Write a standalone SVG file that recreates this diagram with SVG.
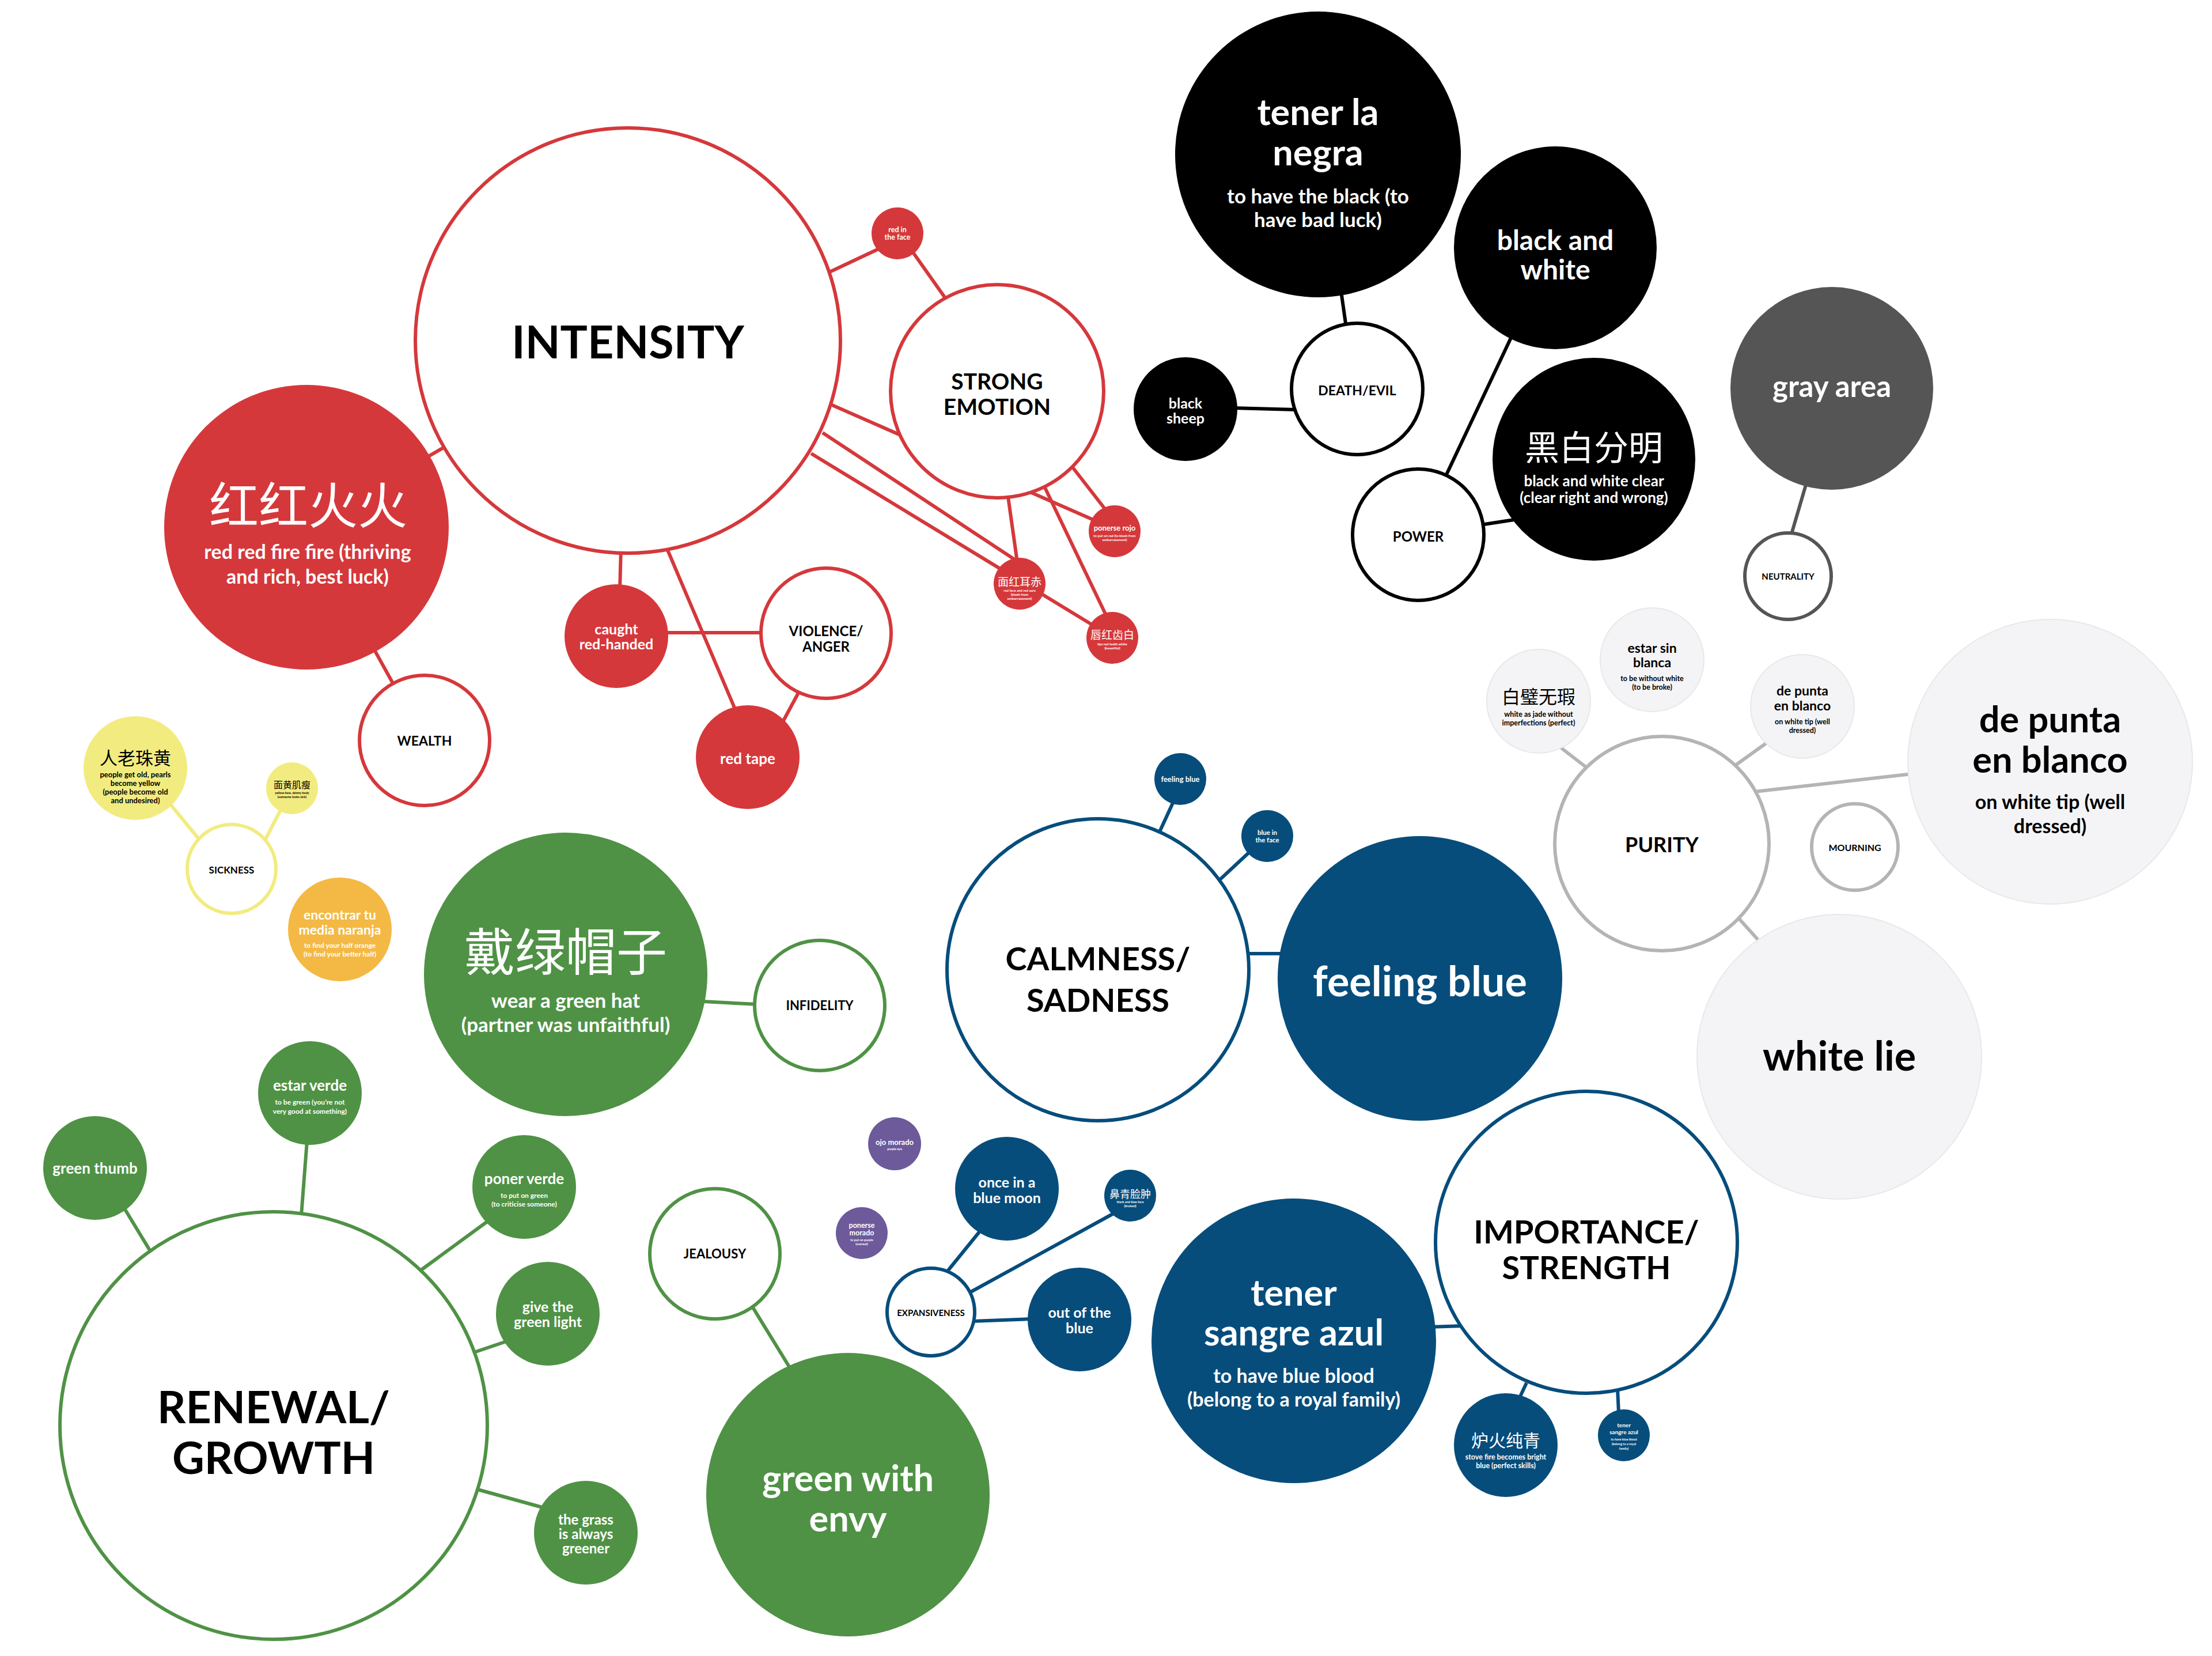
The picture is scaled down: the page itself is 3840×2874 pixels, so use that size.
<svg xmlns="http://www.w3.org/2000/svg" width="3840" height="2874" viewBox="0 0 3840 2874">
<style>
.n{font-family:Lato,"Noto Sans",sans-serif;font-weight:700;text-anchor:middle}
.s{font-family:Lato,"Noto Sans",sans-serif;font-weight:700;text-anchor:middle}
.c{font-family:"Noto Sans CJK SC","Noto Sans CJK TC",sans-serif;font-weight:400;text-anchor:middle}
.w{fill:#fff}.k{fill:#000}
.fr{fill:#d5383b}.or{fill:#fff;stroke:#d5383b;stroke-width:6}
.fg{fill:#4f9245}.og{fill:#fff;stroke:#4f9245;stroke-width:6}
.fb{fill:#064d7c}.ob{fill:#fff;stroke:#064d7c;stroke-width:6}
.fk{fill:#000}.ok{fill:#fff;stroke:#000;stroke-width:6}
.fy{fill:#f2ec80}.oy{fill:#fff;stroke:#f2ec80;stroke-width:6}
.fo{fill:#f4b944}.fp{fill:#6d5a9a}
.fa{fill:#555}.oa{fill:#fff;stroke:#555;stroke-width:6}
.fl{fill:#f4f4f6;stroke:#e8e8ea;stroke-width:2}.ol{fill:#fff;stroke:#b4b4b4;stroke-width:6}
.cr line{stroke:#d5383b}.cg line{stroke:#4f9245}.cb line{stroke:#064d7c}.ck line{stroke:#000}.ca line{stroke:#555}.cl line{stroke:#b4b4b4}.cy line{stroke:#f2ec80}
#connectors line{stroke-width:6}
</style>
<rect width="3840" height="2874" fill="#fff"/>
<g id="connectors">
<g class="cr">
<line x1="532" y1="915" x2="1090" y2="591"/>
<line x1="532" y1="915" x2="737" y2="1285"/>
<line x1="1436" y1="474" x2="1540" y2="425"/>
<line x1="1580" y1="431" x2="1650" y2="530"/>
<line x1="1440" y1="701" x2="1900" y2="903"/>
<line x1="1428" y1="751" x2="1775" y2="980"/>
<line x1="1408" y1="787" x2="1930" y2="1105"/>
<line x1="1749" y1="855" x2="1768" y2="990"/>
<line x1="1855" y1="802" x2="1925" y2="892"/>
<line x1="1810" y1="838" x2="1925" y2="1078"/>
<line x1="1078" y1="950" x2="1076" y2="1025"/>
<line x1="1157" y1="950" x2="1280" y2="1240"/>
<line x1="1150" y1="1098" x2="1330" y2="1098"/>
<line x1="1390" y1="1195" x2="1355" y2="1260"/>
</g>
<g class="ck">
<line x1="2140" y1="708" x2="2250" y2="711"/>
<line x1="2328" y1="505" x2="2337" y2="568"/>
<line x1="2625" y1="582" x2="2508" y2="830"/>
<line x1="2570" y1="911" x2="2635" y2="901"/>
</g>
<g class="ca">
<line x1="3136" y1="838" x2="3109" y2="930"/>
</g>
<g class="cl">
<line x1="2705" y1="1294" x2="2758" y2="1335"/>
<line x1="3070" y1="1287" x2="3010" y2="1330"/>
<line x1="3045" y1="1374" x2="3320" y2="1343"/>
<line x1="3015" y1="1590" x2="3060" y2="1640"/>
</g>
<g class="cb">
<line x1="2040" y1="1385" x2="2010" y2="1450"/>
<line x1="2172" y1="1476" x2="2114" y2="1530"/>
<line x1="2160" y1="1655" x2="2230" y2="1655"/>
<line x1="1640" y1="2212" x2="1705" y2="2132"/>
<line x1="1680" y1="2245" x2="1935" y2="2105"/>
<line x1="1688" y1="2293" x2="1790" y2="2289"/>
<line x1="2480" y1="2303" x2="2545" y2="2301"/>
<line x1="2650" y1="2400" x2="2636" y2="2430"/>
<line x1="2808" y1="2410" x2="2810" y2="2452"/>
</g>
<g class="cg">
<line x1="214" y1="2094" x2="265" y2="2178"/>
<line x1="533" y1="1980" x2="523" y2="2110"/>
<line x1="850" y1="2117" x2="727" y2="2207"/>
<line x1="882" y1="2327" x2="820" y2="2348"/>
<line x1="945" y1="2617" x2="822" y2="2583"/>
<line x1="1220" y1="1738" x2="1315" y2="1743"/>
<line x1="1305" y1="2266" x2="1375" y2="2380"/>
</g>
<g class="cy">
<line x1="295" y1="1395" x2="350" y2="1462"/>
<line x1="488" y1="1404" x2="456" y2="1466"/>
</g>
</g>

<g id="intensity"><circle class="or" cx="1090" cy="591" r="369"/><text class="n k" x="1090" y="622" font-size="79">INTENSITY</text></g>
<g id="honghonghuohuo"><circle class="fr" cx="532" cy="915" r="247"/><text class="c w" x="535" y="909" font-size="86">红红火火</text><text class="s w" x="534" y="970" font-size="34">red red fire fire (thriving</text><text class="s w" x="534" y="1013" font-size="34">and rich, best luck)</text></g>
<g id="wealth"><circle class="or" cx="737" cy="1285" r="113"/><text class="n k" x="737" y="1294" font-size="23">WEALTH</text></g>
<g id="caught"><circle class="fr" cx="1070" cy="1104" r="90"/><text class="s w" x="1070" y="1101" font-size="25">caught</text><text class="s w" x="1070" y="1127" font-size="25">red-handed</text></g>
<g id="violence"><circle class="or" cx="1434" cy="1099" r="113"/><text class="n k" x="1434" y="1104" font-size="24">VIOLENCE/</text><text class="n k" x="1434" y="1131" font-size="24">ANGER</text></g>
<g id="redtape"><circle class="fr" cx="1298" cy="1314" r="90"/><text class="s w" x="1298" y="1326" font-size="26">red tape</text></g>
<g id="strongemotion"><circle class="or" cx="1731" cy="679" r="185"/><text class="n k" x="1731" y="676" font-size="39">STRONG</text><text class="n k" x="1731" y="720" font-size="39">EMOTION</text></g>
<g id="redintheface"><circle class="fr" cx="1558" cy="405" r="45"/><text class="s w" x="1558" y="403" font-size="12.5">red in</text><text class="s w" x="1558" y="416" font-size="12.5">the face</text></g>
<g id="ponerserojo"><circle class="fr" cx="1935" cy="922" r="45"/><text class="s w" x="1935" y="921" font-size="13">ponerse rojo</text><text class="s w" x="1935" y="932" font-size="6">to put on red (to blush from</text><text class="s w" x="1935" y="939" font-size="6">embarrassment)</text></g>
<g id="mianhongerchi"><circle class="fr" cx="1770" cy="1013" r="45"/><text class="c w" x="1770" y="1017" font-size="19">面红耳赤</text><text class="s w" x="1770" y="1027" font-size="6">red face and red ears</text><text class="s w" x="1770" y="1034" font-size="6">(blush from</text><text class="s w" x="1770" y="1041" font-size="6">embarrassment)</text></g>
<g id="chunhongchibai"><circle class="fr" cx="1931" cy="1107" r="45"/><text class="c w" x="1931" y="1109" font-size="19">唇红齿白</text><text class="s w" x="1931" y="1120" font-size="6">lips red teeth white</text><text class="s w" x="1931" y="1127" font-size="6">(beautiful)</text></g>

<g id="tenerlanegra"><circle class="fk" cx="2288" cy="268" r="248"/><text class="s w" x="2288" y="217" font-size="63">tener la</text><text class="s w" x="2288" y="287" font-size="63">negra</text><text class="s w" x="2288" y="353" font-size="35">to have the black (to</text><text class="s w" x="2288" y="394" font-size="35">have bad luck)</text></g>
<g id="blackandwhite"><circle class="fk" cx="2700" cy="430" r="176"/><text class="s w" x="2700" y="434" font-size="48">black and</text><text class="s w" x="2700" y="485" font-size="48">white</text></g>
<g id="deathevil"><circle class="ok" cx="2356" cy="675" r="114"/><text class="n k" x="2356" y="686" font-size="23">DEATH/EVIL</text></g>
<g id="blacksheep"><circle class="fk" cx="2058" cy="710" r="90"/><text class="s w" x="2058" y="709" font-size="25">black</text><text class="s w" x="2058" y="735" font-size="25">sheep</text></g>
<g id="power"><circle class="ok" cx="2462" cy="928" r="114"/><text class="n k" x="2462" y="940" font-size="24">POWER</text></g>
<g id="heibaifenming"><circle class="fk" cx="2767" cy="797" r="176"/><text class="c w" x="2767" y="799" font-size="60">黑白分明</text><text class="s w" x="2767" y="844" font-size="26">black and white clear</text><text class="s w" x="2767" y="873" font-size="26">(clear right and wrong)</text></g>
<g id="grayarea"><circle class="fa" cx="3180" cy="674" r="176"/><text class="s w" x="3180" y="689" font-size="51">gray area</text></g>
<g id="neutrality"><circle class="oa" cx="3104" cy="1000" r="75"/><text class="n k" x="3104" y="1006" font-size="15">NEUTRALITY</text></g>

<g id="purity"><circle class="ol" cx="2885" cy="1464" r="186"/><text class="n k" x="2885" y="1479" font-size="36">PURITY</text></g>
<g id="baibiwuxia"><circle class="fl" cx="2671" cy="1217" r="90"/><text class="c k" x="2671" y="1221" font-size="32">白璧无瑕</text><text class="s k" x="2671" y="1244" font-size="12.5">white as jade without</text><text class="s k" x="2671" y="1259" font-size="12.5">imperfections (perfect)</text></g>
<g id="estarsinblanca"><circle class="fl" cx="2868" cy="1145" r="90"/><text class="s k" x="2868" y="1133" font-size="23">estar sin</text><text class="s k" x="2868" y="1158" font-size="23">blanca</text><text class="s k" x="2868" y="1182" font-size="12.5">to be without white</text><text class="s k" x="2868" y="1197" font-size="12.5">(to be broke)</text></g>
<g id="depuntasmall"><circle class="fl" cx="3129" cy="1226" r="90"/><text class="s k" x="3129" y="1207" font-size="23">de punta</text><text class="s k" x="3129" y="1233" font-size="23">en blanco</text><text class="s k" x="3129" y="1257" font-size="12.5">on white tip (well</text><text class="s k" x="3129" y="1272" font-size="12.5">dressed)</text></g>
<g id="mourning"><circle class="ol" cx="3220" cy="1470" r="75"/><text class="n k" x="3220" y="1477" font-size="16">MOURNING</text></g>
<g id="depuntabig"><circle class="fl" cx="3559" cy="1322" r="247"/><text class="s k" x="3559" y="1271" font-size="63">de punta</text><text class="s k" x="3559" y="1341" font-size="63">en blanco</text><text class="s k" x="3559" y="1404" font-size="34">on white tip (well</text><text class="s k" x="3559" y="1446" font-size="34">dressed)</text></g>
<g id="whitelie"><circle class="fl" cx="3193" cy="1834" r="247"/><text class="s k" x="3193" y="1858" font-size="70">white lie</text></g>

<g id="calmness"><circle class="ob" cx="1906" cy="1683" r="262"/><text class="n k" x="1906" y="1684" font-size="56">CALMNESS/</text><text class="n k" x="1906" y="1756" font-size="56">SADNESS</text></g>
<g id="feelingbluesmall"><circle class="fb" cx="2049" cy="1352" r="45"/><text class="s w" x="2049" y="1357" font-size="13">feeling blue</text></g>
<g id="blueintheface"><circle class="fb" cx="2200" cy="1451" r="45"/><text class="s w" x="2200" y="1449" font-size="11.5">blue in</text><text class="s w" x="2200" y="1462" font-size="11.5">the face</text></g>
<g id="feelingbluebig"><circle class="fb" cx="2465" cy="1698" r="247"/><text class="s w" x="2465" y="1729" font-size="72">feeling blue</text></g>
<g id="ojomorado"><circle class="fp" cx="1553" cy="1985" r="46"/><text class="s w" x="1553" y="1987" font-size="13">ojo morado</text><text class="s w" x="1553" y="1996" font-size="5.5">purple eye</text></g>
<g id="ponersemorado"><circle class="fp" cx="1496" cy="2140" r="45"/><text class="s w" x="1496" y="2131" font-size="12.5">ponerse</text><text class="s w" x="1496" y="2144" font-size="12.5">morado</text><text class="s w" x="1496" y="2154" font-size="5.5">to put on purple</text><text class="s w" x="1496" y="2161" font-size="5.5">(overeat)</text></g>
<g id="onceinabluemoon"><circle class="fb" cx="1748" cy="2063" r="90"/><text class="s w" x="1748" y="2061" font-size="25">once in a</text><text class="s w" x="1748" y="2088" font-size="25">blue moon</text></g>
<g id="biqinglianzhong"><circle class="fb" cx="1962" cy="2075" r="45"/><text class="c w" x="1962" y="2079" font-size="18">鼻青脸肿</text><text class="s w" x="1962" y="2088" font-size="5.5">black and blue face</text><text class="s w" x="1962" y="2095" font-size="5.5">(bruised)</text></g>
<g id="expansiveness"><circle class="ob" cx="1616" cy="2277" r="76"/><text class="n k" x="1616" y="2284" font-size="15">EXPANSIVENESS</text></g>
<g id="outoftheblue"><circle class="fb" cx="1874" cy="2290" r="90"/><text class="s w" x="1874" y="2287" font-size="25">out of the</text><text class="s w" x="1874" y="2314" font-size="25">blue</text></g>
<g id="tenersangreazul"><circle class="fb" cx="2246" cy="2327" r="247"/><text class="s w" x="2246" y="2266" font-size="63">tener</text><text class="s w" x="2246" y="2335" font-size="63">sangre azul</text><text class="s w" x="2246" y="2400" font-size="34">to have blue blood</text><text class="s w" x="2246" y="2441" font-size="34">(belong to a royal family)</text></g>
<g id="importance"><circle class="ob" cx="2754" cy="2156" r="262"/><text class="n k" x="2754" y="2158" font-size="56">IMPORTANCE/</text><text class="n k" x="2754" y="2220" font-size="56">STRENGTH</text></g>
<g id="luhuochunqing"><circle class="fb" cx="2614" cy="2508" r="90"/><text class="c w" x="2614" y="2511" font-size="30">炉火纯青</text><text class="s w" x="2614" y="2533" font-size="12.5">stove fire becomes bright</text><text class="s w" x="2614" y="2548" font-size="12.5">blue (perfect skills)</text></g>
<g id="tenersangreazulsmall"><circle class="fb" cx="2819" cy="2491" r="45"/><text class="s w" x="2819" y="2477" font-size="10">tener</text><text class="s w" x="2819" y="2489" font-size="10">sangre azul</text><text class="s w" x="2819" y="2500" font-size="5.5">to have blue blood</text><text class="s w" x="2819" y="2508" font-size="5.5">(belong to a royal</text><text class="s w" x="2819" y="2516" font-size="5.5">family)</text></g>

<g id="renewal"><circle class="og" cx="475" cy="2474" r="371"/><text class="n k" x="475" y="2470" font-size="77">RENEWAL/</text><text class="n k" x="475" y="2558" font-size="77">GROWTH</text></g>
<g id="greenthumb"><circle class="fg" cx="165" cy="2027" r="90"/><text class="s w" x="165" y="2037" font-size="26">green thumb</text></g>
<g id="estarverde"><circle class="fg" cx="538" cy="1897" r="90"/><text class="s w" x="538" y="1893" font-size="26">estar verde</text><text class="s w" x="538" y="1917" font-size="12">to be green (you’re not</text><text class="s w" x="538" y="1933" font-size="12">very good at something)</text></g>
<g id="ponerverde"><circle class="fg" cx="910" cy="2060" r="90"/><text class="s w" x="910" y="2055" font-size="26">poner verde</text><text class="s w" x="910" y="2079" font-size="12">to put on green</text><text class="s w" x="910" y="2094" font-size="12">(to criticise someone)</text></g>
<g id="givethegreenlight"><circle class="fg" cx="951" cy="2280" r="90"/><text class="s w" x="951" y="2277" font-size="25">give the</text><text class="s w" x="951" y="2303" font-size="25">green light</text></g>
<g id="thegrass"><circle class="fg" cx="1017" cy="2660" r="90"/><text class="s w" x="1017" y="2646" font-size="24">the grass</text><text class="s w" x="1017" y="2671" font-size="24">is always</text><text class="s w" x="1017" y="2696" font-size="24">greener</text></g>
<g id="dailvmaozi"><circle class="fg" cx="982" cy="1691" r="246"/><text class="c w" x="982" y="1684" font-size="88">戴绿帽子</text><text class="s w" x="982" y="1749" font-size="35">wear a green hat</text><text class="s w" x="982" y="1791" font-size="35">(partner was unfaithful)</text></g>
<g id="infidelity"><circle class="og" cx="1423" cy="1745" r="113"/><text class="n k" x="1423" y="1753" font-size="22">INFIDELITY</text></g>
<g id="jealousy"><circle class="og" cx="1241" cy="2176" r="113"/><text class="n k" x="1241" y="2184" font-size="22">JEALOUSY</text></g>
<g id="greenwithenvy"><circle class="fg" cx="1472" cy="2594" r="246"/><text class="s w" x="1472" y="2588" font-size="63">green with</text><text class="s w" x="1472" y="2658" font-size="63">envy</text></g>

<g id="sickness"><circle class="oy" cx="402" cy="1508" r="77"/><text class="n k" x="402" y="1516" font-size="17">SICKNESS</text></g>
<g id="renlaozhuhuang"><circle class="fy" cx="235" cy="1333" r="90"/><text class="c k" x="235" y="1327" font-size="31">人老珠黄</text><text class="s k" x="235" y="1349" font-size="13">people get old, pearls</text><text class="s k" x="235" y="1364" font-size="13">become yellow</text><text class="s k" x="235" y="1379" font-size="13">(people become old</text><text class="s k" x="235" y="1394" font-size="13">and undesired)</text></g>
<g id="mianhuangjishou"><circle class="fy" cx="507" cy="1368" r="45"/><text class="c k" x="507" y="1368" font-size="16">面黄肌瘦</text><text class="s k" x="507" y="1378" font-size="5.5">yellow face, skinny body</text><text class="s k" x="507" y="1385" font-size="5.5">(someone looks sick)</text></g>
<g id="mediananaranja"><circle class="fo" cx="590" cy="1613" r="90"/><text class="s w" x="590" y="1596" font-size="23">encontrar tu</text><text class="s w" x="590" y="1622" font-size="23">media naranja</text><text class="s w" x="590" y="1645" font-size="12">to find your half orange</text><text class="s w" x="590" y="1660" font-size="12">(to find your better half)</text></g>
</svg>
